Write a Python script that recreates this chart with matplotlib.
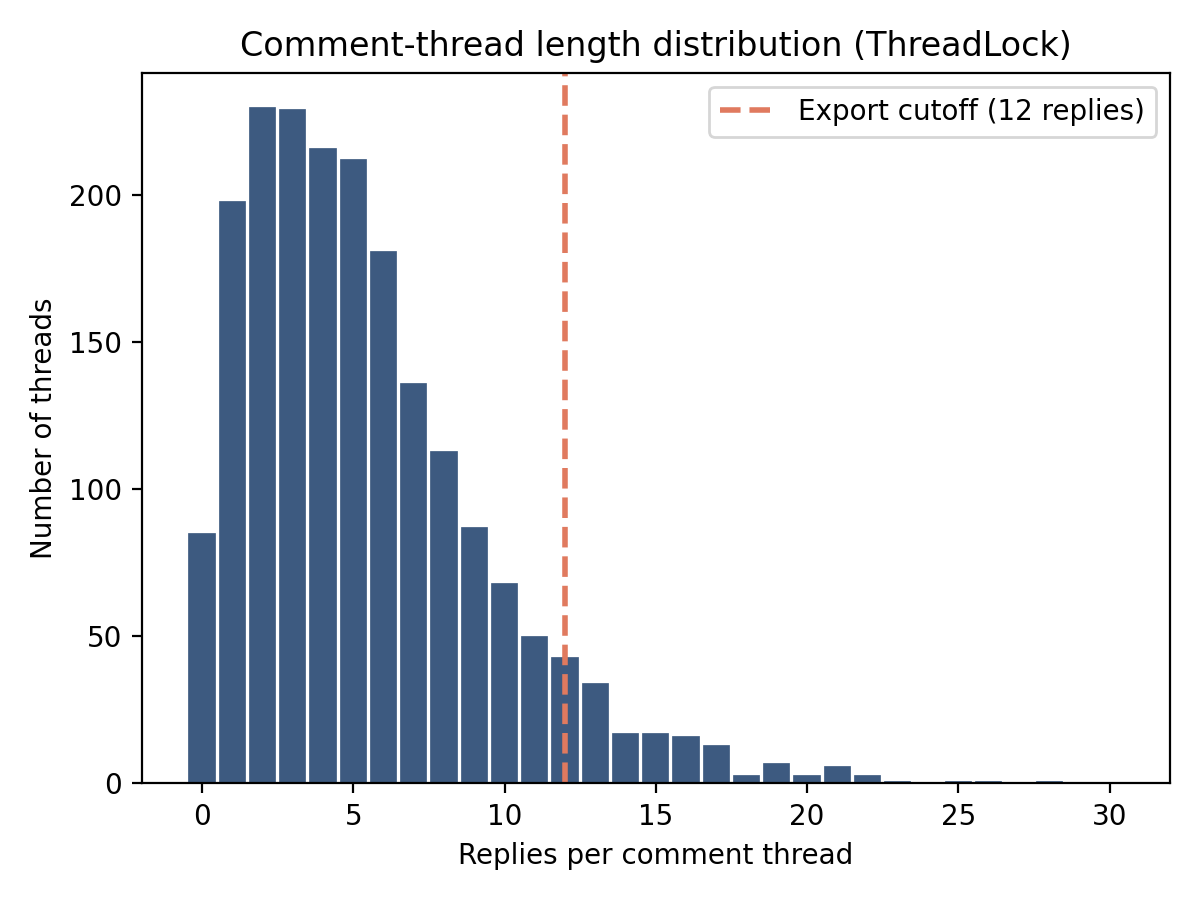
import numpy as np
import matplotlib
matplotlib.use("Agg")
import matplotlib.pyplot as plt

replies = list(range(31))
thread_counts = [85, 198, 230, 229, 216, 212, 181, 136, 113, 87,
                 68, 50, 43, 34, 17, 17, 16, 13, 3, 7,
                 3, 6, 3, 1, 0, 1, 1, 0, 1, 0, 0]
cutoff = 12

fig, ax = plt.subplots(figsize=(6, 4.5), dpi=200)
ax.bar(replies, thread_counts, width=0.9, color="#3d5a80", edgecolor="white", linewidth=0.1)
ax.axvline(cutoff, color="#e07a5f", linestyle="--", linewidth=2,
           label="Export cutoff (12 replies)")
ax.set_title("Comment-thread length distribution (ThreadLock)")
ax.set_xlabel("Replies per comment thread")
ax.set_ylabel("Number of threads")
ax.legend(loc="upper right")
fig.tight_layout()
fig.savefig("out.png", dpi=200)
